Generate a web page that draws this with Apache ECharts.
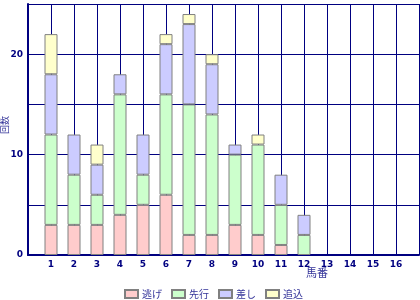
<!DOCTYPE html>
<html><head><meta charset="utf-8">
<script src="https://cdn.jsdelivr.net/npm/echarts@6/dist/echarts.min.js"></script>
<style>html,body{margin:0;padding:0;background:#fff}#c{width:420px;height:300px}</style>
</head><body><div id="c"></div>
<script>
const categories = ['1','2','3','4','5','6','7','8','9','10','11','12','13','14','15','16'];
const nige   = [3,3,3,4,5,6,2,2,3,2,1,0,0,0,0,0];
const senko  = [9,5,3,12,3,10,13,12,7,9,4,2,0,0,0,0];
const sashi  = [6,4,3,2,4,5,8,5,1,0,3,2,0,0,0,0];
const oikomi = [4,0,2,0,0,1,1,1,0,1,0,0,0,0,0,0];
const seriesNames = ['逃げ','先行','差し','追込'];
const seriesColors = ['#ffcccc','#ccffcc','#ccccff','#ffffcc'];
const yTicks = [0,10,20];
const xName = '馬番';
const yName = '回数';

const cats = [''].concat(categories, ['']);
const pad = arr => ['-'].concat(arr.map(v => v === 0 ? '-' : v), ['-']);
const navy = '#000080';
const jp = '"Noto Sans CJK JP", sans-serif';

const chart = echarts.init(document.getElementById('c'));
chart.setOption({
  animation: false,
  grid: {left: 28, right: 1, top: 4, bottom: 45, containLabel: false, outerBoundsMode: 'none'},
  title: {text: xName, left: 306, top: 267, padding: 0, textStyle: {fontFamily: jp, fontSize: 11, fontWeight: 'normal', color: '#333399'}},
  graphic: [{
    type: 'text', x: 5, y: 125, rotation: Math.PI / 2,
    style: {text: yName, font: '9px "Noto Sans CJK JP"', fill: '#333399', align: 'center', verticalAlign: 'middle'}
  }],
  legend: {
    top: 289, left: 124, padding: 0, itemWidth: 13, itemHeight: 8, itemGap: 9, icon: 'rect',
    textStyle: {fontFamily: jp, fontSize: 10, color: '#333399', padding: [0,0,0,-1]},
    data: seriesNames
  },
  xAxis: {
    type: 'category', data: cats, boundaryGap: false,
    axisLine: {lineStyle: {color: navy, width: 2}},
    axisTick: {show: false},
    axisLabel: {interval: 0, color: navy, fontSize: 9, fontWeight: 'bold', fontFamily: 'DejaVu Sans', margin: 5},
    splitLine: {show: true, interval: 0, lineStyle: {color: navy, width: 1}}
  },
  yAxis: {
    type: 'value', min: 0, max: 25, interval: 5,
    axisLine: {show: true, lineStyle: {color: navy, width: 2}},
    axisTick: {show: false},
    axisLabel: {color: navy, fontSize: 9, fontWeight: 'bold', fontFamily: 'DejaVu Sans', margin: 5,
      formatter: v => yTicks.includes(v) ? String(v) : ''},
    splitLine: {show: true, lineStyle: {color: navy, width: 1}}
  },
  series: [nige, senko, sashi, oikomi].map((arr, i) => ({
    name: seriesNames[i], type: 'bar', stack: 'all', barWidth: 13,
    data: pad(arr),
    itemStyle: {color: seriesColors[i], borderColor: '#808080', borderWidth: 1}
  }))
});
</script></body></html>
